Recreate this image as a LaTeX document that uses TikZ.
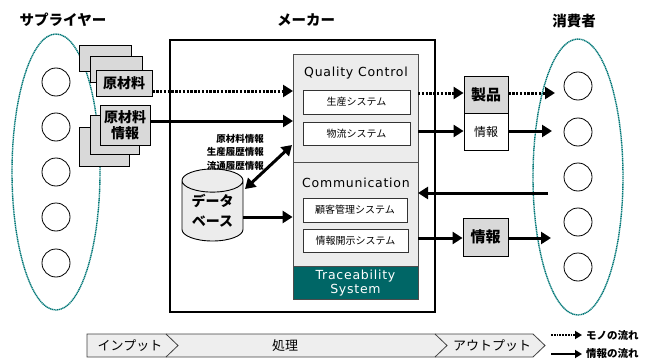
\documentclass[tikz,border=0pt]{standalone}
\usepackage{fontspec}
\setmainfont{Noto Sans CJK JP}
\newfontfamily\lat[LetterSpace=6]{DejaVu Sans}
\usetikzlibrary{arrows.meta,shapes.geometric}
\definecolor{teal1}{RGB}{0,118,118}
\definecolor{teal2}{RGB}{0,102,102}
\definecolor{boxgray}{RGB}{217,217,217}
\definecolor{panel}{RGB}{236,236,236}
\definecolor{bar}{RGB}{238,238,238}
\tikzset{
  px/.style={x=1pt,y=-1pt},
  stackbox/.style={draw=black,fill=boxgray,line width=0.9pt,inner sep=0pt,font=\fontsize{14}{15}\selectfont\bfseries},
  panelbox/.style={draw=black!70,fill=panel,line width=0.8pt,inner sep=0pt},
  sysbox/.style={draw=black!80,fill=white,line width=0.8pt,inner sep=0pt,font=\fontsize{10}{12}\selectfont},
  person/.style={circle,draw=black,line width=0.8pt,minimum size=28pt,inner sep=0pt},
  group/.style={draw=teal1,line width=1.4pt,dash pattern=on 1.2pt off 0.6pt},
  arr/.style={line width=3pt,-{Triangle[length=10pt,width=12pt]}},
  dotarr/.style={arr,dash pattern=on 2.4pt off 1.4pt},
  title/.style={font=\fontsize{14.5}{16}\selectfont\bfseries},
  latfont/.style={font=\fontsize{12.5}{14}\selectfont\lat},
}
\begin{document}
\begin{tikzpicture}[px]
\useasboundingbox (0,0) rectangle (648,361);
% titles
\node[title] (tsup) at (63,20) {サプライヤー};
\node[title] (tmak) at (306,20) {メーカー};
\node[title] (tcon) at (574,21) {消費者};
% supplier group
\node[group,ellipse,minimum width=88pt,minimum height=276pt] (sgrp) at (56,172) {};
\foreach \i/\y in {1/82,2/127,3/172,4/217,5/263}
  \node[person] (s\i) at (56,\y) {};
% consumer group
\node[group,ellipse,minimum width=90pt,minimum height=276pt] (cgrp) at (578,177) {};
\foreach \i/\y in {1/86,2/132,3/177,4/222,5/267}
  \node[person] (c\i) at (578,\y) {};
% maker box
\node[draw=black,line width=1.4pt,minimum width=265pt,minimum height=272pt] (maker) at (302.5,176) {};
% stacked material boxes
\node[stackbox,minimum width=52pt,minimum height=26pt] (m3) at (105,58) {};
\node[stackbox,minimum width=52pt,minimum height=26pt] (m2) at (116,69) {};
\node[stackbox,minimum width=56pt,minimum height=26pt] (m1) at (124,83) {原材料};
% stacked info boxes
\node[stackbox,minimum width=50pt,minimum height=39pt] (i3) at (104,146.5) {};
\node[stackbox,minimum width=49pt,minimum height=39pt] (i2) at (114.5,135) {};
\node[stackbox,minimum width=50pt,minimum height=40pt,align=center,font=\fontsize{14}{16}\selectfont\bfseries] (i1) at (125,125) {原材料\\情報};
% panels
\node[panelbox,minimum width=125pt,minimum height=108pt] (qc) at (355.5,108) {};
\node[latfont] (qct) at (356,73) {Quality Control};
\node[panelbox,minimum width=125pt,minimum height=105pt] (cm) at (355.5,214.5) {};
\node[latfont] (cmt) at (356,183) {Communication};
\node[draw=black!70,fill=teal2,line width=0.8pt,minimum width=125pt,minimum height=32pt,text=white,align=center,latfont,font=\fontsize{12.5}{14}\selectfont\lat] (tr) at (355.5,283) {Traceability\\System};
\node[sysbox,minimum width=107pt,minimum height=24pt] (sa) at (356.5,102) {生産システム};
\node[sysbox,minimum width=107pt,minimum height=23pt] (sb) at (356.5,133.5) {物流システム};
\node[sysbox,minimum width=104pt,minimum height=24pt] (sc) at (355,210) {顧客管理システム};
\node[sysbox,minimum width=105pt,minimum height=23pt] (sd) at (355.5,240.5) {情報開示システム};
% database
\node[cylinder,shape border rotate=90,aspect=0.55,draw=black,fill=panel,line width=0.9pt,minimum width=61pt,minimum height=72pt,align=center,inner sep=0pt,font=\fontsize{14}{20}\selectfont\bfseries] (db) at (212.5,211) {データ\\ベース};
\node[anchor=north east,align=right,inner sep=0pt,font=\fontsize{9.5}{13.5}\selectfont\bfseries] (dbl) at (264,134) {原材料情報\\生産履歴情報\\流通履歴情報};
% output boxes
\node[draw=black,fill=boxgray,line width=0.9pt,minimum width=44pt,minimum height=37pt,inner sep=0pt,font=\fontsize{15}{16}\selectfont\bfseries] (prod) at (486,94.5) {製品};
\node[draw=black,fill=white,line width=0.9pt,minimum width=44pt,minimum height=37pt,inner sep=0pt,font=\fontsize{12}{14}\selectfont] (info1) at (486,131.5) {情報};
\node[draw=black,fill=boxgray,line width=0.9pt,minimum width=45pt,minimum height=38pt,inner sep=0pt,font=\fontsize{15}{16}\selectfont\bfseries] (info2) at (485.5,237) {情報};
% connection points
\coordinate (qcin1) at (293,91);
\coordinate (qcin2) at (293,121);
\coordinate (qcdb) at (292,145);
\coordinate (dbtop) at (245,189);
\coordinate (qcout1) at (418,93);
\coordinate (qcout2) at (418,131);
\coordinate (cin1) at (555,93);
\coordinate (cin2) at (552,131);
\coordinate (cout) at (548,193);
\coordinate (cmin) at (418,193);
\coordinate (cmout) at (418,238);
\coordinate (cin3) at (551,238);
% arrows
\draw[dotarr] (m1.east |- qcin1) -- (qcin1);
\draw[arr] (i1.east |- qcin2) -- (qcin2);
\draw[arr,{Triangle[length=10pt,width=12pt]}-{Triangle[length=10pt,width=12pt]}] (dbtop) -- (qcdb);
\draw[arr] (db.east |- 0,217) -- (cm.west |- 0,217);
\draw[dotarr] (qcout1) -- (prod.west |- qcout1);
\draw[dotarr] (prod.east |- cin1) -- (cin1);
\draw[arr] (qcout2) -- (info1.west |- qcout2);
\draw[arr] (info1.east |- cin2) -- (cin2);
\draw[arr] (cout) -- (cmin);
\draw[arr] (cmout) -- (info2.west |- cmout);
\draw[arr] (info2.east |- cin3) -- (cin3);
% bottom process bar
\draw[fill=bar,draw=black!75,line width=0.8pt] (87,334) -- (533,334) -- (545,345.5) -- (533,357) -- (87,357) -- cycle;
\draw[draw=black!75,line width=0.8pt] (166,334) -- (178,345.5) -- (166,357);
\draw[draw=black!75,line width=0.8pt] (435,334) -- (447,345.5) -- (435,357);
\node[font=\fontsize{13}{14}\selectfont] (pin) at (130,346) {インプット};
\node[font=\fontsize{13}{14}\selectfont] (ppr) at (285,346) {処理};
\node[font=\fontsize{13}{14}\selectfont] (pout) at (492,346) {アウトプット};
% legend
\coordinate (l1a) at (551,335);
\coordinate (l1b) at (582,335);
\coordinate (l2a) at (551,354);
\coordinate (l2b) at (582,354);
\draw[line width=2.2pt,dash pattern=on 1.8pt off 1pt,-{Triangle[length=7pt,width=8pt]}] (l1a) -- (l1b);
\draw[line width=2.2pt,-{Triangle[length=7pt,width=8pt]}] (l2a) -- (l2b);
\node[anchor=west,inner sep=0pt,font=\fontsize{10.5}{12}\selectfont\bfseries] (lg1) at (586,335) {モノの流れ};
\node[anchor=west,inner sep=0pt,font=\fontsize{10.5}{12}\selectfont\bfseries] (lg2) at (586,354) {情報の流れ};
\end{tikzpicture}
\end{document}
